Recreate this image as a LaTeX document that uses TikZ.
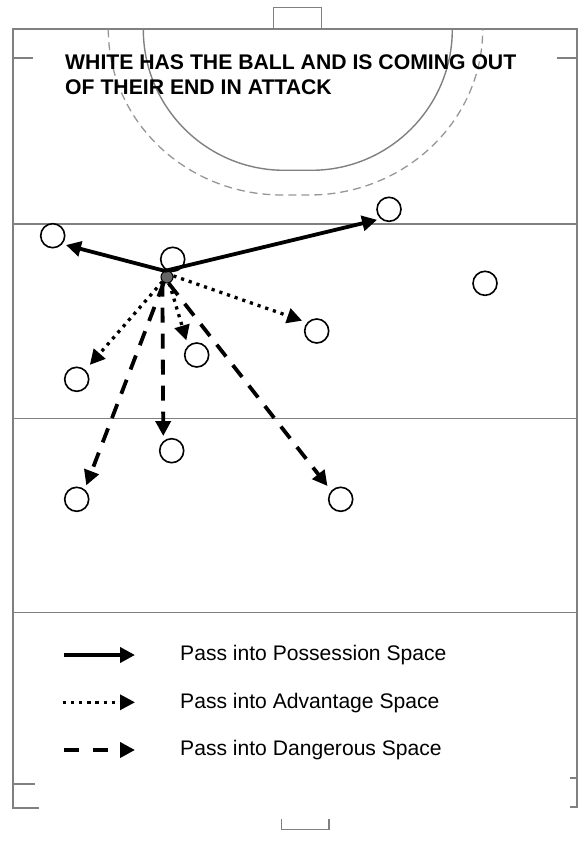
\documentclass[tikz,border=0pt]{standalone}
\usepackage{fontspec}
\setmainfont{Liberation Sans}
\usetikzlibrary{arrows.meta}
\definecolor{pitchline}{RGB}{128,128,128}
\definecolor{circleline}{RGB}{150,150,150}
\begin{document}
\begin{tikzpicture}[x=1pt,y=-1pt,
  pitch/.style={draw=pitchline, line width=1.8pt},
  markline/.style={draw=pitchline, line width=1.4pt},
  outerD/.style={draw=circleline, line width=1.3pt, dash pattern=on 8pt off 5pt},
  player/.style={circle, draw=black, line width=1.6pt, fill=white,
    minimum size=24pt, inner sep=0pt},
  ballnode/.style={circle, draw=black, line width=1pt, fill=gray!80!black,
    minimum size=12pt, inner sep=0pt},
  pass/.style={line width=3.8pt, -{Triangle[length=15pt,width=15pt]}},
  possession/.style={pass},
  advantage/.style={pass, line width=3.3pt,
    dash pattern=on 3.2pt off 4.9pt},
  danger/.style={pass, line width=3.8pt, dash pattern=on 15pt off 11pt},
  caption/.style={anchor=base west, inner sep=0pt,
    font=\fontsize{21.1}{25}\selectfont}]
\useasboundingbox (0,0) rectangle (578,842);

% pitch outline and goals
\draw[pitch] (39.3,808.3) -- (13.3,808.3) -- (13.3,29.3) -- (576.7,29.3)
  -- (576.7,807.3) -- (570,807.3);
\draw[pitch] (13.3,58.3) -- (33,58.3);
\draw[pitch] (557.3,58.3) -- (576.7,58.3);
\draw[pitch] (13.3,784) -- (35,784);
\draw[pitch] (570,778.3) -- (576.7,778.3);
\draw[markline] (273.3,29.3) -- (273.3,7.3) -- (321.7,7.3) -- (321.7,29.3);
\draw[markline] (281.7,819.3) -- (281.7,829.3) -- (329,829.3) -- (329,819.3);

% cross lines
\draw[markline] (13.3,224) -- (576.7,224);
\draw[markline] (13.3,418.3) -- (576.7,418.3);
\draw[markline] (13.3,612.7) -- (576.7,612.7);

% shooting circle and dashed outer circle (quarter arcs joined by a flat)
\draw[markline] (143.3,29.3) .. controls (143.3,107.2) and (206.4,170.3) ..
  (284.3,170.3) -- (311.3,170.3) .. controls (389.2,170.3) and (452.3,107.2) ..
  (452.3,29.3);
\draw[outerD] (108.3,29.3) .. controls (108.3,120.8) and (186.1,195) ..
  (282,195) -- (309,195) .. controls (404.9,195) and (482.7,120.8) ..
  (482.7,29.3);

% heading (base anchor sits on the last line)
\node[anchor=base west, inner sep=0pt, align=left,
  font=\bfseries\fontsize{21.2}{25}\selectfont] (title) at (65,94.3)
  {WHITE HAS THE BALL AND IS COMING OUT\\OF THEIR END IN ATTACK};

% players
\node[player] (p1) at (52.7,235.7) {};
\node[player] (p2) at (172.7,259.3) {};
\node[player] (p3) at (389,209.3) {};
\node[player] (p4) at (485,283.3) {};
\node[player] (p5) at (316.7,331) {};
\node[player] (p6) at (196.7,355) {};
\node[player] (p7) at (76.7,379.3) {};
\node[player] (p8) at (171.7,450.7) {};
\node[player] (p9) at (76.7,499.3) {};
\node[player] (p10) at (340.7,499.3) {};

% ball
\node[ballnode] (ball) at (167,277) {};

% passes
\draw[possession, shorten >=3.7pt] (ball.110) -- (p1.-41.8);
\draw[possession, shorten >=3.6pt] (ball.110) -- (p3.229.2);
\draw[advantage, shorten >=6.7pt] (ball.225) -- (p7.47.1);
\draw[advantage, shorten >=5.6pt] (ball.290) -- (p6.133.7);
\draw[advantage, shorten >=5.4pt] (ball.10) -- (p5.138.8);
\draw[danger, shorten >=4.2pt] (ball.240) -- (p9.51.4);
\draw[danger, shorten >=5pt] (ball.225) -- (p8.131.1);
\draw[danger, shorten >=6pt] (ball.285) -- (p10.138);

% legend
\coordinate (k1a) at (64,655);
\coordinate (k1b) at (135,655);
\coordinate (k2a) at (63,702.3);
\coordinate (k2b) at (135,702.3);
\coordinate (k3a) at (64,750);
\coordinate (k3b) at (135,750);
\draw[possession] (k1a) -- (k1b);
\draw[advantage] (k2a) -- (k2b);
\draw[danger, dash pattern=on 15.3pt off 13.4pt] (k3a) -- (k3b);
\node[caption] (c1) at (180,660.3) {Pass into Possession Space};
\node[caption] (c2) at (180,708.3) {Pass into Advantage Space};
\node[caption] (c3) at (180,755.7) {Pass into Dangerous Space};
\end{tikzpicture}
\end{document}
